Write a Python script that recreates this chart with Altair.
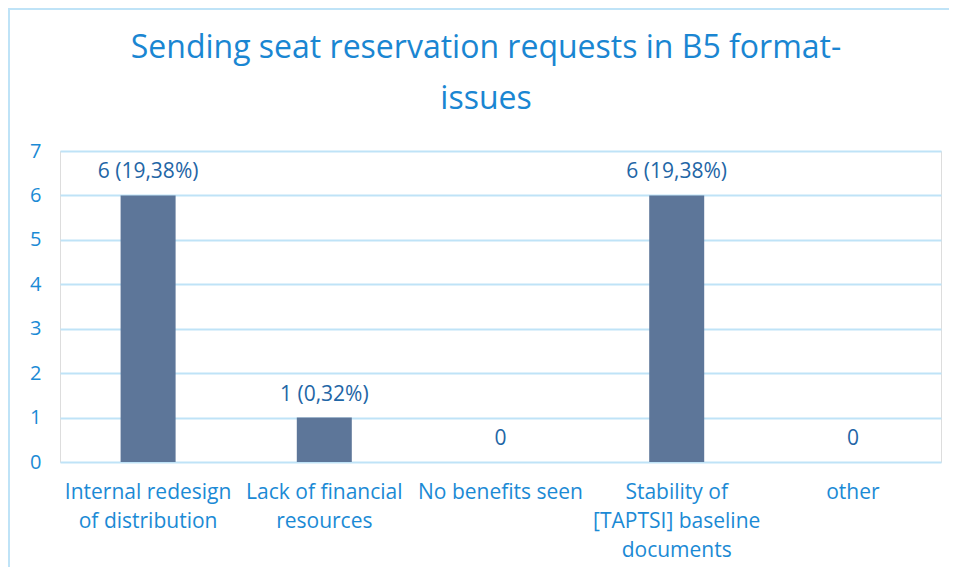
import altair as alt
import pandas as pd

categories = [
    "Internal redesign of distribution",
    "Lack of financial resources",
    "No benefits seen",
    "Stability of [TAPTSI] baseline documents",
    "other",
]
label_lines = [
    ["Internal redesign", "of distribution"],
    ["Lack of financial", "resources"],
    ["No benefits seen"],
    ["Stability of", "[TAPTSI] baseline", "documents"],
    ["other"],
]
values = [6, 1, 0, 6, 0]
value_labels = ["6 (19,38%)", "1 (0,32%)", "0", "6 (19,38%)", "0"]
y_ticks = [0, 1, 2, 3, 4, 5, 6, 7]
title_lines = ["Sending seat reservation requests in B5 format-", "issues"]

df = pd.DataFrame({"category": categories, "value": values, "label": value_labels})

# build a label expression that maps each category to its wrapped lines
expr = "''"
for cat, lines in reversed(list(zip(categories, label_lines))):
    arr = "[" + ",".join("'" + l + "'" for l in lines) + "]"
    expr = f"datum.label == '{cat}' ? {arr} : ({expr})"

FONT = "Open Sans"
GRID = "#bfe3f7"
AXIS_BLUE = "#1b8ad5"
TITLE_BLUE = "#1a86d2"
LABEL_BLUE = "#1f66a6"

x_enc = alt.X(
    "category:N",
    sort=categories,
    scale=alt.Scale(paddingInner=0, paddingOuter=0),
    axis=alt.Axis(
        title=None,
        labelAngle=0,
        labelExpr=expr,
        labelFont=FONT,
        labelFontSize=21,
        labelColor=AXIS_BLUE,
        labelLineHeight=29,
        labelBaseline="top",
        labelPadding=19,
        ticks=False,
        domain=False,
        labelLimit=300,
    ),
)

y_scale = alt.Scale(domain=[0, 7], nice=False)

bars = alt.Chart(df).mark_bar(size=55, color="#5d7699").encode(
    x=x_enc,
    y=alt.Y(
        "value:Q",
        scale=y_scale,
        axis=alt.Axis(
            title=None,
            values=y_ticks,
            labelFont=FONT,
            labelFontSize=20,
            labelColor=AXIS_BLUE,
            labelPadding=19,
            ticks=False,
            domain=False,
            grid=True,
            gridColor=GRID,
            gridWidth=2,
        ),
    ),
)

texts = alt.Chart(df).mark_text(
    font=FONT, fontSize=21, color=LABEL_BLUE, baseline="alphabetic", dy=-17
).encode(x=alt.X("category:N", sort=categories), y=alt.Y("value:Q", scale=y_scale), text="label:N")

frame_df = pd.DataFrame({"k": [0]})

title1 = alt.Chart(frame_df).mark_text(
    font=FONT, fontSize=32, color=TITLE_BLUE, baseline="middle", align="center"
).encode(x=alt.value(426), y=alt.value(-103), text=alt.value(title_lines[0]))
title2 = alt.Chart(frame_df).mark_text(
    font=FONT, fontSize=32, color=TITLE_BLUE, baseline="middle", align="center"
).encode(x=alt.value(426), y=alt.value(-52), text=alt.value(title_lines[1]))

left_rule = alt.Chart(frame_df).mark_rule(color=GRID, strokeWidth=2).encode(
    x=alt.value(-51), y=alt.value(-142), y2=alt.value(416)
)
top_rule = alt.Chart(frame_df).mark_rule(color=GRID, strokeWidth=2).encode(
    x=alt.value(-52), x2=alt.value(889), y=alt.value(-142)
)

chart = (
    alt.layer(bars, texts, title1, title2, left_rule, top_rule)
    .properties(
        width=881,
        height=311,
        autosize=alt.AutoSizeParams(type="none"),
        padding={"left": 52, "top": 143, "right": 8, "bottom": 105},
    )
    .configure_view(stroke=None)
    .configure(background="white")
)

chart.save("out.html", embed_options={"renderer": "svg", "actions": False})
